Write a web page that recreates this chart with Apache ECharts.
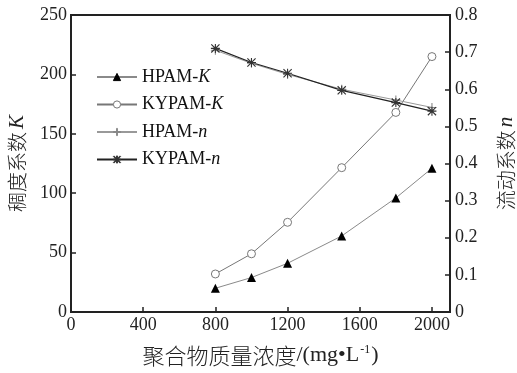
<!DOCTYPE html>
<html>
<head>
<meta charset="utf-8">
<script src="https://cdn.jsdelivr.net/npm/echarts@6/dist/echarts.min.js"></script>
<style>
  html, body { margin: 0; padding: 0; background: #fff; }
  #chart { width: 517px; height: 373px; }
</style>
</head>
<body>
<div id="chart"></div>
<script>
// Polymer concentration (mg/L)
const concentrations = [800, 1000, 1200, 1500, 1800, 2000];
// Consistency coefficient K
const hpamK = [20, 29, 41, 64, 96, 121];
const kypamK = [32, 49, 75.5, 121.5, 168, 215];
// Flow behaviour index n
const hpamN = [0.705, 0.670, 0.640, 0.600, 0.571, 0.551];
const kypamN = [0.710, 0.672, 0.643, 0.597, 0.564, 0.541];

const seriesNames = ['HPAM-K', 'KYPAM-K', 'HPAM-n', 'KYPAM-n'];
const leftTicks = [0, 50, 100, 150, 200, 250];
const rightTicks = [0, 0.1, 0.2, 0.3, 0.4, 0.5, 0.6, 0.7, 0.8];

const serif = 'Liberation Serif';
const cjk = 'Noto Sans CJK SC';

const plusPath = 'path://M4.4,0h1.2v10h-1.2z M0,4.4h10v1.2h-10z';
const starPath = 'path://M4.4,0h1.2v10h-1.2z M0,4.4h10v1.2h-10z ' +
  'M0.9,0 L10,9.1 L9.1,10 L0,0.9 Z M9.1,0 L10,0.9 L0.9,10 L0,9.1 Z';

const pairs = vals => concentrations.map((c, i) => [c, vals[i]]);

const chart = echarts.init(document.getElementById('chart'), null, { renderer: 'canvas' });

const legendRich = {
  r: { fontFamily: serif, fontSize: 18, color: '#111' },
  i: { fontFamily: serif, fontSize: 18, fontStyle: 'italic', color: '#111' }
};

const tickLabel = { fontFamily: serif, fontSize: 18, color: '#222' };

const axisNameRich = {
  a: { fontFamily: cjk, fontSize: 20, color: '#222', fontWeight: 300 },
  i: { fontFamily: serif, fontSize: 21, fontStyle: 'italic', color: '#222', padding: [0, 0, 0, 3] }
};

chart.setOption({
  animation: false,
  backgroundColor: '#fff',
  textStyle: { fontFamily: serif },
  grid: {
    left: 71, right: 67, top: 15, bottom: 61,
    outerBoundsMode: 'none',
    containLabel: false,
    show: true, borderColor: '#222', borderWidth: 2, backgroundColor: 'transparent'
  },
  legend: {
    orient: 'vertical',
    left: 91, top: 63,
    itemWidth: 40, itemHeight: 9, itemGap: 9.5,
    data: seriesNames,
    itemStyle: { borderWidth: 1 },
    formatter: name => {
      const [a, b] = name.split('-');
      return '{r|' + a + '-}{i|' + b + '}';
    },
    textStyle: { fontFamily: serif, rich: legendRich }
  },
  xAxis: {
    type: 'value',
    min: 0, max: 2100, interval: 400,
    name: '{c|聚合物质量浓度}{a|/(mg•L}{s|-1}{a|)}',
    nameLocation: 'middle',
    nameGap: 32,
    nameTextStyle: {
      fontFamily: serif,
      rich: {
        c: { fontFamily: cjk, fontSize: 22, color: '#222', fontWeight: 300 },
        a: { fontFamily: serif, fontSize: 22, color: '#222' },
        s: { fontFamily: serif, fontSize: 12, color: '#222', padding: [0, 1, 11, 1] }
      }
    },
    axisLine: { lineStyle: { color: '#222', width: 2 } },
    axisTick: { inside: true, length: 5, lineStyle: { color: '#222', width: 1.5 } },
    axisLabel: Object.assign({}, tickLabel, {
      margin: 4,
      showMaxLabel: false,
      formatter: v => (v % 400 === 0 ? String(v) : '')
    }),
    splitLine: { show: false }
  },
  yAxis: [
    {
      type: 'value',
      min: leftTicks[0], max: leftTicks[leftTicks.length - 1], interval: 50,
      name: '{a|稠度系数}{i|K}',
      nameLocation: 'middle',
      nameGap: 43,
      nameTextStyle: { fontFamily: serif, rich: axisNameRich },
      axisLine: { show: true, lineStyle: { color: '#222', width: 2 } },
      axisTick: { show: true, inside: true, length: 5, lineStyle: { color: '#222', width: 1.5 } },
      axisLabel: Object.assign({}, tickLabel, { margin: 4 }),
      splitLine: { show: false }
    },
    {
      type: 'value',
      position: 'right',
      min: rightTicks[0], max: rightTicks[rightTicks.length - 1], interval: 0.1,
      name: '{a|流动系数}{i|n}',
      nameLocation: 'middle',
      nameGap: 46,
      nameRotate: 90,
      nameTextStyle: { fontFamily: serif, rich: axisNameRich },
      axisLine: { show: true, lineStyle: { color: '#222', width: 2 } },
      axisTick: { show: true, inside: true, length: 5, lineStyle: { color: '#222', width: 1.5 } },
      axisLabel: Object.assign({}, tickLabel, {
        margin: 5,
        formatter: v => (v === 0 ? '0' : v.toFixed(1))
      }),
      splitLine: { show: false }
    }
  ],
  series: [
    {
      name: seriesNames[0], type: 'line', yAxisIndex: 0,
      data: pairs(hpamK),
      symbol: 'triangle', symbolSize: 9,
      itemStyle: { color: '#000', borderColor: '#000', borderWidth: 0 },
      lineStyle: { color: '#8a8a8a', width: 1 }
    },
    {
      name: seriesNames[1], type: 'line', yAxisIndex: 0,
      data: pairs(kypamK),
      symbol: 'circle', symbolSize: 8,
      itemStyle: { color: '#fff', borderColor: '#777', borderWidth: 1 },
      lineStyle: { color: '#777', width: 1 }
    },
    {
      name: seriesNames[2], type: 'line', yAxisIndex: 1,
      data: pairs(hpamN),
      symbol: plusPath, symbolSize: 9,
      itemStyle: { color: '#888', borderColor: '#888', borderWidth: 0 },
      lineStyle: { color: '#999', width: 1 }
    },
    {
      name: seriesNames[3], type: 'line', yAxisIndex: 1,
      data: pairs(kypamN),
      symbol: starPath, symbolSize: 9,
      itemStyle: { color: '#333', borderColor: '#333', borderWidth: 0 },
      lineStyle: { color: '#222', width: 1.2 }
    }
  ]
});
</script>
</body>
</html>
